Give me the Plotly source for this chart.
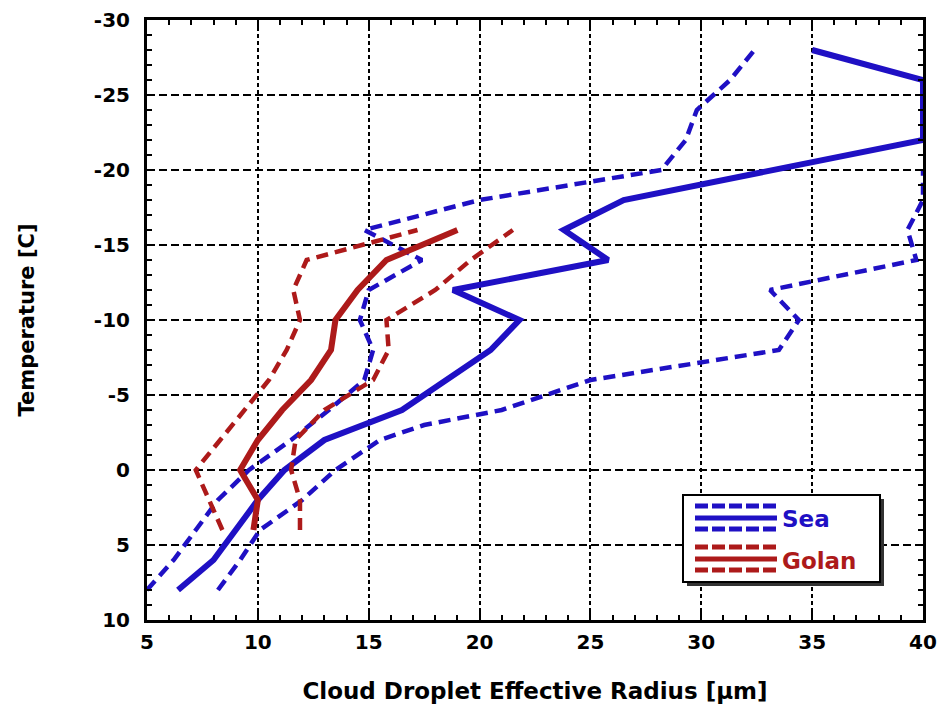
import plotly.graph_objects as go

# ---- data ----
sea_temp = [8, 6, 4, 2, 0, -2, -4, -6, -8, -10, -12, -14, -16, -18, -22, -24, -26, -28]
sea_mean = [6.4, 8.0, 9.0, 10.0, 11.2, 13.0, 16.5, 18.5, 20.5, 21.8, 18.8, 25.8, 23.8, 26.5, 40.0, 40.0, 40.0, 35.0]

sea_low_temp = [8, 6, 4, 2, 0, -2, -4, -6, -8, -10, -12, -14, -16, -18, -20, -22, -24, -26, -28]
sea_low = [5.0, 6.2, 7.2, 8.2, 9.6, 11.5, 13.2, 14.8, 15.2, 14.6, 15.0, 17.4, 14.8, 20.0, 28.2, 29.3, 29.8, 31.3, 32.4]

sea_high_temp = [8, 6, 4, 2, 0, -2, -3, -4, -6, -8, -10, -12, -14, -16, -18, -20]
sea_high = [8.2, 9.2, 10.1, 12.0, 13.5, 15.5, 17.5, 21.0, 25.0, 33.5, 34.4, 33.1, 39.7, 39.3, 40.0, 40.0]

golan_temp = [4, 2, 0, -2, -4, -6, -8, -10, -12, -14, -16]
golan_mean = [9.8, 10.0, 9.2, 10.0, 11.1, 12.4, 13.3, 13.5, 14.5, 15.8, 19.0]
golan_low = [8.4, 7.8, 7.2, 8.3, 9.4, 10.5, 11.3, 11.9, 11.6, 12.2, 17.2]
golan_high = [11.9, 11.9, 11.5, 11.7, 13.0, 15.2, 15.9, 15.8, 18.0, 19.6, 21.5]

x_ticks = [5, 10, 15, 20, 25, 30, 35, 40]
x_ticklabels = ["5", "10", "15", "20", "25", "30", "35", "40"]
y_ticks = [-30, -25, -20, -15, -10, -5, 0, 5, 10]
y_ticklabels = ["-30", "-25", "-20", "-15", "-10", "-5", "0", "5", "10"]

BLUE = "#1f10c4"
RED = "#ad1a1a"
FONT = "DejaVu Sans, Verdana, sans-serif"

fig = go.Figure()

def add(x, y, color, dashed):
    fig.add_trace(go.Scatter(
        x=x, y=y, mode="lines", showlegend=False, hoverinfo="skip",
        line=dict(color=color, width=4.5 if dashed else 6,
                  dash="12px,7px" if dashed else "solid"),
    ))

add(sea_low, sea_low_temp, BLUE, True)
add(sea_high, sea_high_temp, BLUE, True)
add(sea_mean, sea_temp, BLUE, False)
add(golan_low, golan_temp, RED, True)
add(golan_high, golan_temp, RED, True)
add(golan_mean, golan_temp, RED, False)

axis_common = dict(
    showline=True, linewidth=3, linecolor="black", mirror="allticks",
    showgrid=True, gridcolor="black", automargin=False,
    ticks="inside", ticklen=8, tickwidth=2, tickcolor="black",
    zeroline=False,
    tickfont=dict(family=FONT, size=20, color="black", weight="bold"),
    minor=dict(ticks="inside", ticklen=5, tickwidth=2, dtick=1, tickcolor="black", showgrid=False),
)

fig.update_xaxes(range=[5, 40], tickvals=x_ticks, ticktext=x_ticklabels,
                 title=dict(text="Cloud Droplet Effective Radius [μm]", standoff=30,
                            font=dict(family=FONT, size=23, color="black", weight="bold")),
                 gridwidth=2, griddash="4px,3px", ticklabelstandoff=2,
                 **axis_common)
fig.update_yaxes(range=[10, -30], tickvals=y_ticks, ticktext=y_ticklabels,
                 title=dict(text="Temperature [C]", standoff=54,
                            font=dict(family=FONT, size=21, color="black", weight="bold")),
                 gridwidth=1.5, griddash="8px,4px", ticklabelstandoff=10,
                 **axis_common)

# ---- custom legend (paper coordinates) ----
def px2x(px):
    return (px - 147) / 776.0

def px2y(py):
    return (620 - py) / 600.0

shapes = []
shapes.append(dict(type="rect", xref="paper", yref="paper",
                   x0=px2x(687), x1=px2x(884), y0=px2y(586), y1=px2y(499),
                   fillcolor="#333333", line=dict(width=0), layer="above"))
shapes.append(dict(type="rect", xref="paper", yref="paper",
                   x0=px2x(683), x1=px2x(880), y0=px2y(582), y1=px2y(495),
                   fillcolor="white", line=dict(color="black", width=2), layer="above"))

def legend_symbol(yc, color):
    for dy, dashed in ((-12, True), (0, False), (11, True)):
        shapes.append(dict(type="line", xref="paper", yref="paper",
                           x0=px2x(695), x1=px2x(777), y0=px2y(yc + dy), y1=px2y(yc + dy),
                           line=dict(color=color, width=5,
                                     dash="13px,4px" if dashed else "solid"),
                           layer="above"))

legend_symbol(518, BLUE)
legend_symbol(559, RED)
fig.update_layout(shapes=shapes)

fig.add_annotation(xref="paper", yref="paper", x=px2x(780), y=px2y(519), xanchor="left", yanchor="middle",
                   text="Sea", showarrow=False,
                   font=dict(family=FONT, size=23, color=BLUE, weight="bold"))
fig.add_annotation(xref="paper", yref="paper", x=px2x(780), y=px2y(561), xanchor="left", yanchor="middle",
                   text="Golan", showarrow=False,
                   font=dict(family=FONT, size=23, color=RED, weight="bold"))

fig.update_layout(
    width=940, height=707,
    margin=dict(l=147, r=17, t=20, b=87),
    plot_bgcolor="white", paper_bgcolor="white",
    showlegend=False,
)

fig.write_html("out.html")
